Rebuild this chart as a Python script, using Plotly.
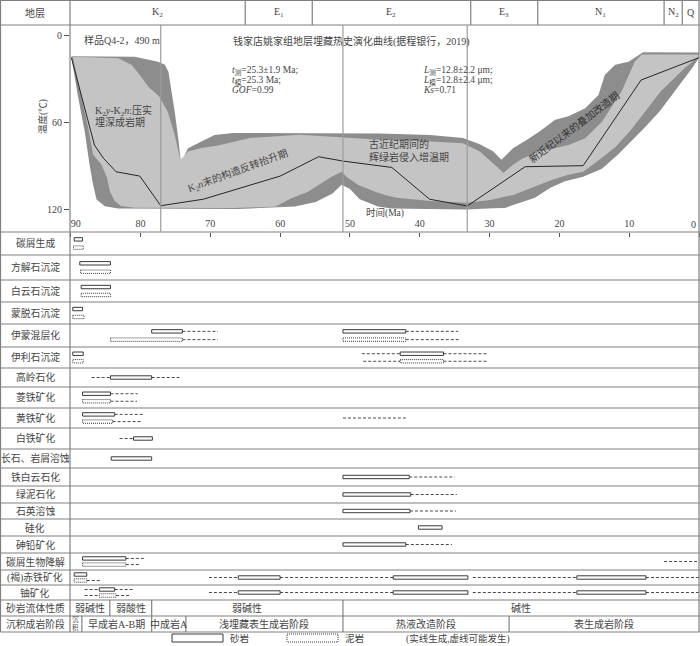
import plotly.graph_objects as go

# ---------------- burial / thermal history of sample Q4-2 ----------------
# acceptable-fit envelope (dark grey): upper and lower edge, time (Ma) / temperature (°C)
acc_top_t = [89.9, 80.8, 77.5, 76.5, 76.0, 75.6, 75.1, 74.6, 74.2, 73.2, 71.3, 69.4, 66.7,
             45.7, 38.5, 33.8, 31.4, 29.5, 28.3, 26.6, 24.7, 22.8, 20.6, 18.7, 16.3, 14.4,
             13.5, 12.0, 10.1, 8.7, 8.0, 0.0]
acc_top_c = [14, 14.3, 17.8, 20, 24.7, 36, 52.4, 70.8, 88, 77.7, 73.2, 68.5, 67.2,
             67.5, 68.5, 70.6, 75, 79.8, 85.6, 77.5, 72, 66, 58, 55.6, 50, 40.8,
             27, 20, 17.8, 13.2, 11.3, 11.5]
acc_bot_t = [89.9, 89.0, 88.0, 87.3, 86.8, 86.3, 85.1, 83.2, 66.0, 57.9, 54.9, 52.5, 51.2,
             50.0, 48.6, 46.0, 44.1, 33.3, 29.5, 27.8, 25.6, 23.5, 21.3, 19.2, 16.6, 13.9,
             11.6, 9.5, 7.7, 5.6, 4.2, 1.0, 0.0]
acc_bot_c = [14.3, 40.7, 66, 89, 102.8, 113.2, 117.8, 119.4, 119.8, 118, 115, 109, 103,
             106, 113, 118, 119.5, 120.2, 119.3, 119, 115.5, 112, 105, 100.5, 97.5, 92,
             82, 72, 63, 52, 43, 22.4, 15]

# good-fit envelope (light grey)
good_top_t = [89.7, 83.2, 81.3, 80.1, 78.9, 77.3, 76.1, 75.1, 74.3, 73.2,
              71.3, 69.1, 64.3, 57.2, 45.7, 38.5, 33.8, 31.4, 29.0, 28.0,
              26.6, 25.2, 22.8, 18.7, 16.3, 13.9, 11.1, 9.2, 8.2, 0.0]
good_top_c = [14.3, 15.5, 20, 27, 35, 42, 52.4, 68.5, 85.8, 80,
              77.5, 76, 70.6, 68.3, 71.8, 73, 74.3, 80, 90.4, 94.8,
              89, 84.7, 80, 75.5, 70.8, 59.3, 38.5, 17.8, 12.8, 12.8]
good_bot_t = [89.7, 88.5, 87.5, 86.8, 85.6, 84.8, 84.4, 83.7, 82.8, 80.8,
              66.8, 60.7, 58.4, 56.0, 54.5, 52.6, 51.2, 50.5, 48.8, 46.4,
              45.0, 43.3, 38.5, 33.3, 29.9, 26.6, 23.4, 21.3, 18.7, 16.6,
              13.8, 12.0, 9.9, 7.7, 5.4, 2.0, 0.0]
good_bot_c = [14.3, 40.7, 63.6, 82, 88.9, 98.2, 107.4, 114.3, 117.7, 118.9,
              119, 118.2, 112.4, 107.8, 103.2, 97.4, 94, 97.4, 103.2, 107.8,
              110, 112, 114.3, 115.5, 113.5, 110, 104, 100, 96, 94,
              84, 77, 66, 52, 38, 22, 14]

# best-fit path
best_t = [89.9, 86.6, 85.3, 83.5, 80.1, 77.1, 71.0, 60.0, 54.5, 51.0, 44.0, 38.6, 33.2, 24.9, 16.6, 8.3, 0.0]
best_c = [15, 75.5, 84.7, 94, 97, 117.5, 113, 97, 83.6, 86.6, 91, 113, 117.7, 90.5, 89.8, 30.5, 15]

stage_lines = [77.1, 51.0, 33.2]   # Ma

strata = ["K<sub>2</sub>", "E<sub>1</sub>", "E<sub>2</sub>", "E<sub>3</sub>", "N<sub>1</sub>", "N<sub>2</sub>", "Q"]
strata_edges = [65.0, 55.4, 32.7, 23.1, 5.0, 2.4]

# ---------------- diagenetic sequence ----------------
labels = ["碳屑生成", "方解石沉淀", "白云石沉淀", "蒙脱石沉淀", "伊蒙混层化", "伊利石沉淀",
          "高岭石化", "菱铁矿化", "黄铁矿化", "白铁矿化", "长石、岩屑溶蚀", "铁白云石化",
          "绿泥石化", "石英溶蚀", "硅化", "砷铅矿化", "碳屑生物降解", "(褐)赤铁矿化", "铀矿化",
          "砂岩流体性质", "沉积成岩阶段"]

# sandstone (upper lane) / mudstone (lower lane): solid = formed, dashed = possible
sand_box = {
    "碳屑生成": [(89.5, 88.3)], "方解石沉淀": [(88.7, 84.3)], "白云石沉淀": [(88.5, 84.3)],
    "蒙脱石沉淀": [(89.7, 88.3)], "伊蒙混层化": [(78.4, 74.0), (51.0, 42.0)],
    "伊利石沉淀": [(89.7, 88.2), (42.8, 36.6)], "菱铁矿化": [(88.3, 84.3)],
    "黄铁矿化": [(88.3, 83.7)], "碳屑生物降解": [(88.3, 82.1)], "(褐)赤铁矿化": [(89.5, 87.7)],
    "铀矿化": [(85.9, 83.7)],
}
sand_dash = {
    "伊蒙混层化": [(74.0, 68.9), (42.0, 34.5)], "伊利石沉淀": [(48.3, 42.8), (36.6, 30.2)],
    "菱铁矿化": [(84.3, 80.4)], "黄铁矿化": [(83.7, 79.5)], "碳屑生物降解": [(82.1, 79.5)],
    "铀矿化": [(88.0, 85.9), (83.7, 81.0)],
}
mud_box = {
    "碳屑生成": [(89.6, 88.2)], "方解石沉淀": [(88.6, 84.3)], "白云石沉淀": [(88.5, 84.3)],
    "蒙脱石沉淀": [(89.7, 88.1)], "伊蒙混层化": [(84.3, 74.0), (51.0, 42.0)],
    "伊利石沉淀": [(89.7, 88.2), (42.8, 36.6)], "菱铁矿化": [(88.3, 84.3)],
    "黄铁矿化": [(88.3, 84.0)], "碳屑生物降解": [(88.3, 82.1)], "(褐)赤铁矿化": [(89.5, 87.7)],
    "铀矿化": [(85.9, 83.5)],
}
mud_dash = {
    "伊蒙混层化": [(74.0, 68.9), (42.0, 34.2)], "伊利石沉淀": [(48.1, 42.8), (36.6, 30.3)],
    "菱铁矿化": [(84.3, 80.5)], "黄铁矿化": [(84.0, 79.9)], "碳屑生物降解": [(82.1, 80.0)],
    "(褐)赤铁矿化": [(87.7, 85.7)], "铀矿化": [(88.0, 85.9), (83.5, 81.5)],
}
# one lane for both lithologies
one_box = {
    "高岭石化": [(84.3, 78.4)], "白铁矿化": [(81.0, 78.3)], "长石、岩屑溶蚀": [(84.2, 78.4)],
    "铁白云石化": [(51.0, 41.5)], "绿泥石化": [(51.0, 41.3)], "石英溶蚀": [(51.0, 41.4)],
    "硅化": [(40.2, 36.8)], "砷铅矿化": [(51.0, 42.0)],
    "(褐)赤铁矿化": [(66.0, 60.0), (43.8, 33.1), (17.5, 7.6)],
    "铀矿化": [(66.0, 60.0), (43.8, 33.1), (17.5, 7.6)],
}
one_dash = {
    "高岭石化": [(87.0, 84.3), (78.4, 74.4)], "黄铁矿化": [(51.0, 42.0)], "白铁矿化": [(83.0, 81.0)],
    "铁白云石化": [(41.5, 35.0)], "绿泥石化": [(41.3, 34.7)], "石英溶蚀": [(41.4, 34.8)],
    "砷铅矿化": [(42.0, 35.4)], "碳屑生物降解": [(5.0, 0.0)],
    "(褐)赤铁矿化": [(70.2, 66.0), (60.0, 43.8), (32.4, 17.5), (7.6, 0.0)],
    "铀矿化": [(70.2, 66.0), (60.0, 43.8), (32.4, 17.5), (7.6, 0.0)],
}

fluid = ["弱碱性", "弱酸性", "弱碱性", "碱性"]
fluid_edges = [84.4, 78.4, 51.0]
stages = ["沉<br>积", "早成岩A-B期", "中成岩A", "浅埋藏表生成岩阶段", "热液改造阶段", "表生成岩阶段"]
stage_edges = [88.4, 78.4, 73.5, 51.0, 27.2]

# ---------------- layout constants ----------------
W, H = 700, 646
T_OLD, T_NOW = 90.1, 0.0
ROW_EDGES = [232, 255, 280, 302, 324, 347, 368, 387, 408, 428, 449, 468, 486, 503, 519,
             536, 553, 570, 585, 600, 616, 632]
GRID = "#808080"
INK = "#454545"
FONT = "Liberation Serif, Noto Sans CJK SC"


def px(x):
    return x / W


def py(y):
    return 1 - y / H


def lane_y(name, lane):
    i = labels.index(name)
    top, bot = ROW_EDGES[i], ROW_EDGES[i + 1]
    off = min(4.2, max(3.0, 0.18 * (bot - top)))
    c = (top + bot) / 2
    return {"sand": c - off, "mud": c + off}.get(lane, c)


def box_xy(spec, lane):
    xs, ys = [], []
    for name, spans in spec.items():
        yc = lane_y(name, lane)
        for a, b in spans:
            xs += [a, b, b, a, a, None]
            ys += [yc - 1.7, yc - 1.7, yc + 1.7, yc + 1.7, yc - 1.7, None]
    return xs, ys


def dash_xy(spec, lane):
    xs, ys = [], []
    for name, spans in spec.items():
        yc = lane_y(name, lane)
        for a, b in spans:
            xs += [a, b, None]
            ys += [yc, yc, None]
    return xs, ys


fig = go.Figure()

# envelopes and best fit
fig.add_trace(go.Scatter(x=acc_top_t + acc_bot_t[::-1], y=acc_top_c + acc_bot_c[::-1],
                         fill="toself", fillcolor="#8d8d8d", mode="lines", line_width=0,
                         hoverinfo="skip"))
fig.add_trace(go.Scatter(x=good_top_t + good_bot_t[::-1], y=good_top_c + good_bot_c[::-1],
                         fill="toself", fillcolor="#c4c4c4", mode="lines", line_width=0,
                         hoverinfo="skip"))
fig.add_trace(go.Scatter(x=best_t, y=best_c, mode="lines", line=dict(color="#262626", width=1),
                         hoverinfo="skip"))

# diagenesis bars (on the lower, pixel-row axis)
for spec, lane in [(sand_dash, "sand"), (mud_dash, "mud"), (one_dash, "one")]:
    xs, ys = dash_xy(spec, lane)
    fig.add_trace(go.Scatter(x=xs, y=ys, yaxis="y2", mode="lines",
                             line=dict(color="#4a4a4a", width=1, dash="3px,2px"), hoverinfo="skip"))
for spec, lane, dash in [(sand_box, "sand", "solid"), (mud_box, "mud", "1px,1px"), (one_box, "one", "solid")]:
    xs, ys = box_xy(spec, lane)
    fig.add_trace(go.Scatter(x=xs, y=ys, yaxis="y2", mode="lines", fill="toself", fillcolor="white",
                             line=dict(color="#3a3a3a", width=1, dash=dash), hoverinfo="skip"))

shapes = []
ann = []


def hline(y, x0=0.5, x1=699.5):
    shapes.append(dict(type="line", xref="paper", yref="paper", x0=px(x0), x1=px(x1),
                       y0=py(y), y1=py(y), line=dict(color=GRID, width=1.2)))


def vline(x, y0, y1):
    shapes.append(dict(type="line", xref="paper", yref="paper", x0=px(x), x1=px(x),
                       y0=py(y0), y1=py(y1), line=dict(color=GRID, width=1.2)))


def text(t, x, y, xref="paper", yref="paper", size=10, color=INK, **kw):
    kw.setdefault("xanchor", "center")
    kw.setdefault("yanchor", "middle")
    ann.append(dict(text=t, x=x, y=y, xref=xref, yref=yref, showarrow=False,
                    font=dict(size=size, color=color, family=FONT), **kw))


def note(t, x, y, **kw):
    text(t, px(x), py(y), **kw)


# frame and table grid
for y in [0.5, 25] + ROW_EDGES:
    hline(y)
for x in [0.5, 70, 699]:
    vline(x, 0, 632)

# header: stratigraphy
for t in strata_edges:
    shapes.append(dict(type="line", xref="x", yref="paper", x0=t, x1=t, y0=py(0), y1=py(25),
                       line=dict(color=GRID, width=1.2)))
bounds = [T_OLD] + strata_edges + [T_NOW]
for name, a, b in zip(strata, bounds[:-1], bounds[1:]):
    text(name, (a + b) / 2, py(12.5), xref="x")
note("地层", 35, 12.5)

# stage boundaries in the thermal plot
for t in stage_lines:
    shapes.append(dict(type="line", xref="x", yref="y domain", x0=t, x1=t, y0=0, y1=1,
                       layer="above", line=dict(color="#9c9c9c", width=1.2)))

# fluid property and diagenetic stage cells
for edges, names, row in [(fluid_edges, fluid, 19), (stage_edges, stages, 20)]:
    top, bot = ROW_EDGES[row], ROW_EDGES[row + 1]
    for t in edges:
        shapes.append(dict(type="line", xref="x", yref="y2", x0=t, x1=t, y0=top, y1=bot,
                           line=dict(color=GRID, width=1.2)))
    b = [T_OLD] + edges + [T_NOW]
    for name, t0, t1 in zip(names, b[:-1], b[1:]):
        small = "<br>" in name
        text(name, (t0 + t1) / 2, (top + bot) / 2, xref="x", yref="y2", size=6.5 if small else 10)

# row labels
for i, name in enumerate(labels):
    text(name, px(35), (ROW_EDGES[i] + ROW_EDGES[i + 1]) / 2, yref="y2", size=9.8)

# texts inside the thermal plot
note("样品Q4-2，490 m", 82, 40, xanchor="left")
note("钱家店姚家组地层埋藏热史演化曲线(据程银行，2019)", 351, 42)
note("<i>t</i><sub>测</sub>=25.3±1.9 Ma;", 230, 71, size=9.5, xanchor="left")
note("<i>t</i><sub>模</sub>=25.3 Ma;", 230, 80.5, size=9.5, xanchor="left")
note("<i>GOF</i>=0.99", 230, 89.5, size=9.5, xanchor="left")
note("<i>L</i><sub>测</sub>=12.8±2.2 μm;", 421, 71, size=9.5, xanchor="left")
note("<i>L</i><sub>模</sub>=12.8±2.4 μm;", 421, 80.5, size=9.5, xanchor="left")
note("<i>Ks</i>=0.71", 421, 89.5, size=9.5, xanchor="left")
note("K<sub>2</sub><i>y</i>-K<sub>2</sub><i>n</i>:压实", 93, 111, xanchor="left")
note("埋深成岩期", 93, 122, xanchor="left")
note("K<sub>2</sub><i>n</i>末的构造反转抬升期", 238, 171, textangle=-20)
note("古近纪期间的<br>辉绿岩侵入增温期", 367, 150, xanchor="left", align="left")
note("新近纪以来的叠加改造期", 574, 127, textangle=-37, color="#333333")
note("时间(Ma)", 385, 213, size=9.5)
note("温度(℃)", 43, 117, size=9.5, textangle=-90)
# the "0" label sits against the right border, so it is right-aligned to the axis end
text("0", T_NOW, py(224), xref="x", xanchor="right", xshift=-1)

# legend
shapes.append(dict(type="rect", xref="paper", yref="paper", x0=px(172), x1=px(223), y0=py(634),
                   y1=py(642), line=dict(color="#3a3a3a", width=1)))
shapes.append(dict(type="rect", xref="paper", yref="paper", x0=px(287), x1=px(338), y0=py(634),
                   y1=py(642), line=dict(color="#3a3a3a", width=1, dash="1px,1px")))
note("砂岩", 228, 638.5, size=9.5, xanchor="left")
note("泥岩", 343, 638.5, size=9.5, xanchor="left")
note("(实线生成,虚线可能发生)", 404, 638.5, size=9.5, xanchor="left")

nb = "\u00a0"
fig.update_layout(
    width=W, height=H, margin=dict(l=0, r=0, t=0, b=0, pad=0), autosize=False,
    paper_bgcolor="white", plot_bgcolor="rgba(0,0,0,0)", showlegend=False,
    font=dict(family=FONT, size=10, color=INK),
    xaxis=dict(domain=[px(70), px(699)], range=[T_OLD, T_NOW], anchor="y", automargin=False,
               tickvals=[90, 80, 70, 60, 50, 40, 30, 20, 10, 0],
               ticktext=[nb * 4 + "90", "80", "70", "60", "50", "40", "30", "20", "10", ""],
               ticks="outside", ticklen=4, tickcolor="#555555", ticklabelposition="inside",
               ticklabeloverflow="allow",
               showgrid=False, zeroline=False, showline=False, fixedrange=True),
    yaxis=dict(domain=[py(232), py(25)], range=[135.7, -7.6], anchor="x", automargin=False,
               tickvals=[0, 60, 120], ticks="outside", ticklen=5, tickcolor="#555555",
               showgrid=False, zeroline=False, showline=False, fixedrange=True),
    yaxis2=dict(domain=[0, py(232)], range=[H, 232], anchor="x", visible=False, fixedrange=True,
                automargin=False),
    shapes=shapes, annotations=ann,
)

fig.write_html("out.html", config={"displayModeBar": False},
               post_script="document.body.style.margin='0';")
